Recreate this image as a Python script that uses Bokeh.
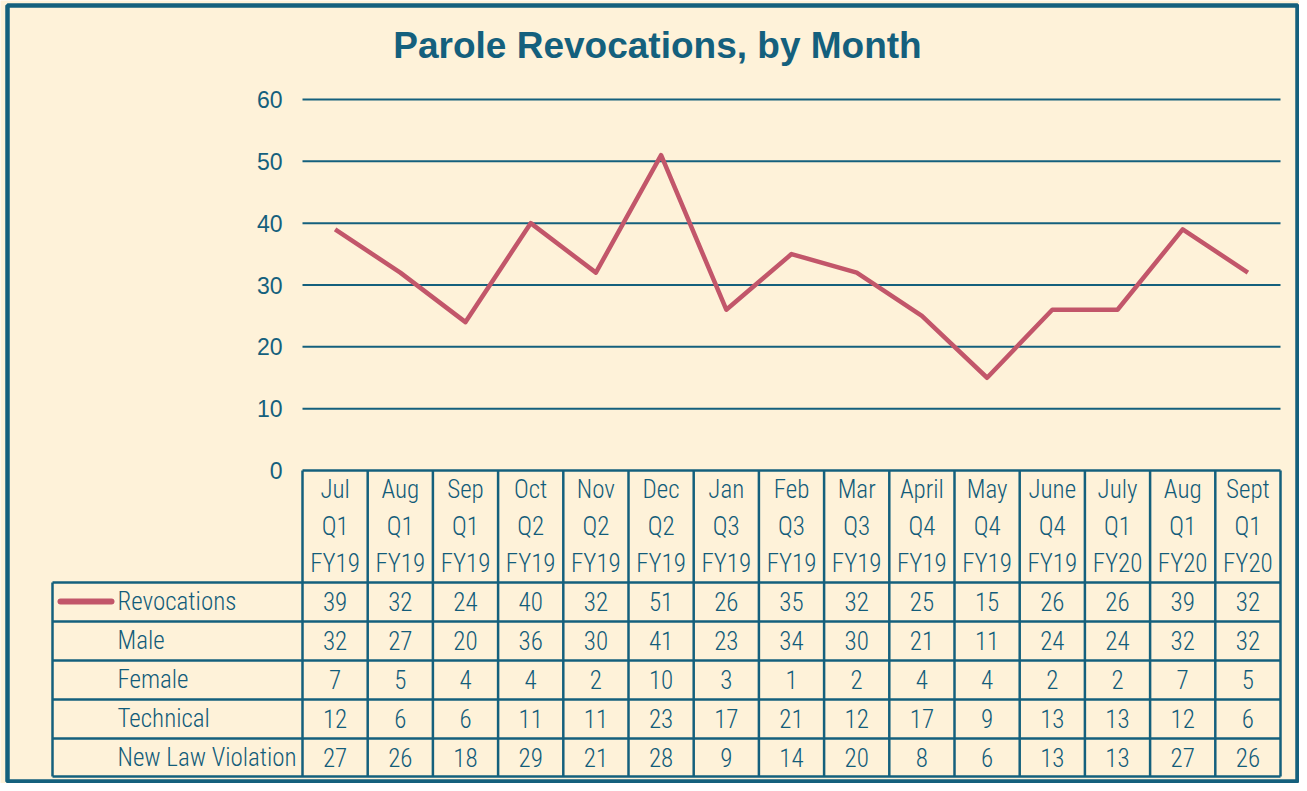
from bokeh.plotting import figure
from bokeh.models import Range1d
from bokeh.core.properties import value
from bokeh.embed import file_html
from bokeh.resources import INLINE

# ---------------- data ----------------
months = ["Jul", "Aug", "Sep", "Oct", "Nov", "Dec", "Jan", "Feb", "Mar",
          "April", "May", "June", "July", "Aug", "Sept"]
quarters = ["Q1", "Q1", "Q1", "Q2", "Q2", "Q2", "Q3", "Q3", "Q3",
            "Q4", "Q4", "Q4", "Q1", "Q1", "Q1"]
fiscal_years = ["FY19", "FY19", "FY19", "FY19", "FY19", "FY19", "FY19", "FY19",
                "FY19", "FY19", "FY19", "FY19", "FY20", "FY20", "FY20"]
revocations = [39, 32, 24, 40, 32, 51, 26, 35, 32, 25, 15, 26, 26, 39, 32]
male = [32, 27, 20, 36, 30, 41, 23, 34, 30, 21, 11, 24, 24, 32, 32]
female = [7, 5, 4, 4, 2, 10, 3, 1, 2, 4, 4, 2, 2, 7, 5]
technical = [12, 6, 6, 11, 11, 23, 17, 21, 12, 17, 9, 13, 13, 12, 6]
new_law = [27, 26, 18, 29, 21, 28, 9, 14, 20, 8, 6, 13, 13, 27, 26]
row_labels = ["Revocations", "Male", "Female", "Technical", "New Law Violation"]
y_ticks = [0, 10, 20, 30, 40, 50, 60]
title_text = "Parole Revocations, by Month"

# ---------------- style ----------------
BG = "#FEF2D9"
TEAL = "#14607D"
TEXT = "#125C7A"
LINE = "#C2566A"
NARROW = "'Roboto Condensed Light', 'Roboto Condensed'"
SANS = "Liberation Sans"

W, H = 1299, 783
OFF = 0
COLW = 65.2
YPX = 371.0 / 60.0
n = len(months)


def X(page_x):
    return -0.5 + (page_x - 302.0) / COLW


def Y(page_y):
    return (470.0 - page_y) / YPX


p = figure(width=W, height=H, x_range=Range1d(X(OFF), X(OFF + W)),
           y_range=Range1d(Y(OFF + H), Y(OFF)),
           x_axis_type=None, y_axis_type=None, min_border=0,
           toolbar_location=None, output_backend="svg",
           background_fill_color=BG, border_fill_color=BG,
           outline_line_color=None)
p.grid.visible = False

xs = list(range(n))
left, right = -0.5, n - 0.5

# outer frame
p.quad(left=[X(7)], right=[X(1297)], top=[Y(5)], bottom=[Y(781)],
       fill_color=None, line_color=TEAL, line_width=4.5)

# title
p.text(x=[X(657)], y=[Y(45)], text=[title_text], text_align="center",
       text_baseline="middle", text_font=value(SANS), text_font_style="bold",
       text_font_size="37px", text_color=TEAL)

# gridlines
gl = [t for t in y_ticks if t > 0]
p.segment(x0=[left] * len(gl), x1=[right] * len(gl), y0=gl, y1=gl,
          line_color=TEAL, line_width=2)

# y tick labels
p.text(x=[X(282)] * len(y_ticks), y=y_ticks, text=[str(t) for t in y_ticks],
       text_align="right", text_baseline="middle", text_font=value(SANS),
       text_font_size="23px", text_color=TEAL)

# main line
p.line(x=xs, y=revocations, line_color=LINE, line_width=4.5, line_join="round")

# table grid
row_edges = [582, 621, 660, 699, 738, 776]
vx = [i - 0.5 for i in range(n + 1)]
p.segment(x0=vx, x1=vx, y0=[Y(470)] * len(vx), y1=[Y(776)] * len(vx),
          line_color=TEAL, line_width=2.5)
p.segment(x0=[left], x1=[right], y0=[Y(470)], y1=[Y(470)],
          line_color=TEAL, line_width=2.5)
p.segment(x0=[X(52)] * len(row_edges), x1=[right] * len(row_edges),
          y0=[Y(r) for r in row_edges], y1=[Y(r) for r in row_edges],
          line_color=TEAL, line_width=2.5)
p.segment(x0=[X(52)], x1=[X(52)], y0=[Y(582)], y1=[Y(776)],
          line_color=TEAL, line_width=2.5)

# header text
for labels, py in ((months, 489), (quarters, 526), (fiscal_years, 563)):
    p.text(x=xs, y=[Y(py)] * n, text=labels, text_align="center",
           text_baseline="middle", text_font=value(NARROW),
           text_font_size="25px", text_color=TEXT)

# data rows
rows = [revocations, male, female, technical, new_law]
row_centers = [601, 640, 679, 718, 757]
for vals, py in zip(rows, row_centers):
    p.text(x=xs, y=[Y(py)] * n, text=[str(v) for v in vals], text_align="center",
           text_baseline="middle", text_font=value(NARROW),
           text_font_size="25px", text_color=TEXT)

p.text(x=[X(117)] * len(row_labels), y=[Y(c) for c in row_centers], text=row_labels,
       text_align="left", text_baseline="middle", text_font=value(NARROW),
       text_font_size="25px", text_color=TEXT)

# legend key
p.segment(x0=[X(60)], x1=[X(111)], y0=[Y(601)], y1=[Y(601)],
          line_color=LINE, line_width=6, line_cap="round")

open("out.html", "w").write(file_html(p, INLINE))
